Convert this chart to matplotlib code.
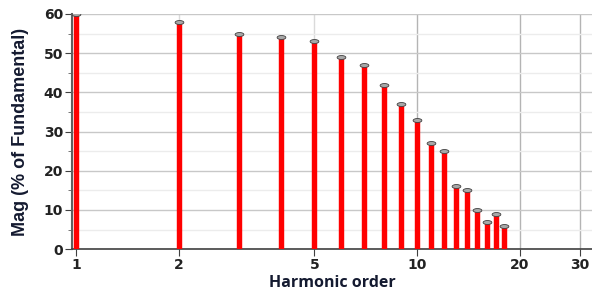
import numpy as np
import matplotlib.pyplot as plt
from matplotlib.path import Path
from matplotlib.ticker import FixedLocator, NullFormatter, MultipleLocator

# harmonic spectrum (% of fundamental)
orders = [1, 2, 3, 4, 5, 6, 7, 8, 9, 10, 11, 12, 13, 14, 15, 16, 17, 18]
mags = [60, 58, 55, 54, 53, 49, 47, 42, 37, 33, 27, 25, 16, 15, 10, 7, 9, 6]
xticks = [1, 2, 5, 10, 20, 30]

plt.rcParams['font.family'] = ['Liberation Sans', 'DejaVu Sans']

fig = plt.figure(figsize=(5.92, 2.91), dpi=100)
ax = fig.add_axes([0.122, 0.144, 0.878, 0.808])

ax.set_xscale('log')
ax.set_xlim(0.975, 32.6)
ax.set_ylim(0, 60)

# grid
ax.yaxis.set_major_locator(MultipleLocator(10))
ax.yaxis.set_minor_locator(MultipleLocator(5))
ax.grid(axis='y', which='major', color='#c8c8c8', lw=1.0)
ax.grid(axis='y', which='minor', color='#ececec', lw=1.0)
ax.xaxis.set_major_locator(FixedLocator(xticks))
ax.xaxis.set_minor_locator(FixedLocator([]))
ax.set_xticklabels([str(t) for t in xticks])
ax.xaxis.set_minor_formatter(NullFormatter())
ax.set_axisbelow(True)
for xv in xticks[1:]:
    ax.axvline(xv, color='#dadada' if xv < 10 else '#b4b4b4', lw=1.0, zorder=0.5)

# flat elliptic cap on each stem
t = np.linspace(0, 2 * np.pi, 30)
cap = Path(np.column_stack([np.cos(t), 0.45 * np.sin(t)]))

ax.vlines(orders, 0, mags, color='#ff0000', lw=3.9, zorder=3)
ax.scatter(orders, mags, marker=cap, s=40, color='#a8a8a8', edgecolor='#404040',
           linewidths=0.6, zorder=4)

for s in ['top', 'right']:
    ax.spines[s].set_visible(False)
ax.spines['left'].set_color('#606060')
ax.spines['bottom'].set_color('#404040')
ax.spines['left'].set_linewidth(1.5)
ax.spines['bottom'].set_linewidth(1.2)

ax.tick_params(axis='both', which='major', length=5, color='#404040', labelsize=10,
               pad=1.5)
ax.tick_params(axis='y', which='minor', length=3, color='#606060')
for lab in ax.get_xticklabels() + ax.get_yticklabels():
    lab.set_fontweight('bold')
    lab.set_family('DejaVu Sans')
    lab.set_color('#222222')

ax.set_ylabel('Mag (% of Fundamental)', fontsize=13, fontweight='bold',
              color='#141a30', labelpad=11)
ax.set_xlabel('Harmonic order', fontsize=11.5, fontweight='bold', color='#141a30',
              family=['Open Sans', 'DejaVu Sans'], labelpad=2)

fig.savefig('out.png', dpi=100)
